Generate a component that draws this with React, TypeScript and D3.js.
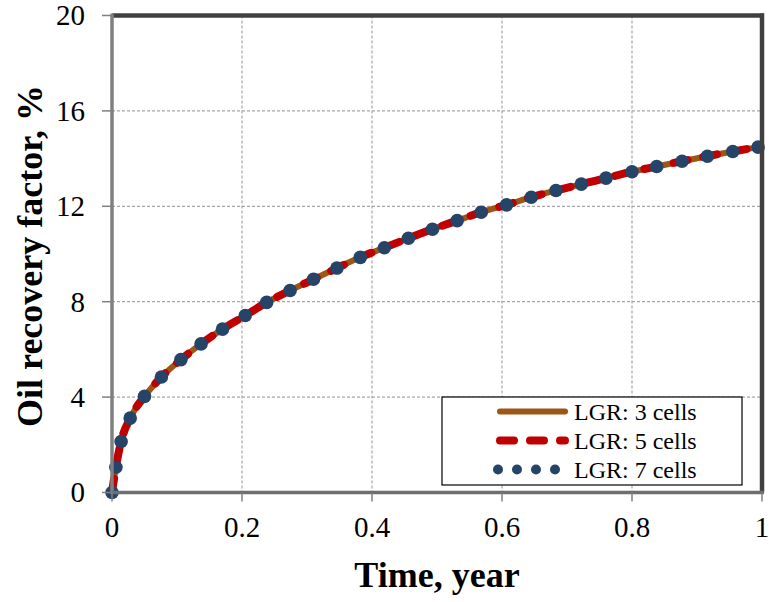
import React from "react";
import * as d3 from "d3";

const timeYears = [0, 0.006, 0.014, 0.028, 0.05, 0.076, 0.106, 0.137, 0.17, 0.205, 0.238, 0.274, 0.31, 0.346, 0.382, 0.419, 0.456, 0.493, 0.531, 0.568, 0.607, 0.645, 0.683, 0.722, 0.76, 0.8, 0.838, 0.877, 0.916, 0.955, 0.994];
const lgr3 = [0, 1.06, 2.14, 3.12, 4.03, 4.84, 5.57, 6.23, 6.85, 7.42, 7.97, 8.47, 8.94, 9.41, 9.86, 10.26, 10.66, 11.04, 11.4, 11.75, 12.06, 12.38, 12.66, 12.93, 13.18, 13.45, 13.67, 13.89, 14.1, 14.3, 14.48];
const lgr5 = [0, 1.06, 2.14, 3.12, 4.03, 4.84, 5.57, 6.23, 6.85, 7.42, 7.97, 8.47, 8.94, 9.41, 9.86, 10.26, 10.66, 11.04, 11.4, 11.75, 12.06, 12.38, 12.66, 12.93, 13.18, 13.45, 13.67, 13.89, 14.1, 14.3, 14.48];
const lgr7 = [0, 1.06, 2.14, 3.12, 4.03, 4.84, 5.57, 6.23, 6.85, 7.42, 7.97, 8.47, 8.94, 9.41, 9.86, 10.26, 10.66, 11.04, 11.4, 11.75, 12.06, 12.38, 12.66, 12.93, 13.18, 13.45, 13.67, 13.89, 14.1, 14.3, 14.48];
const xTicks = [0, 0.2, 0.4, 0.6, 0.8, 1];
const yTicks = [0, 4, 8, 12, 16, 20];
const seriesNames = ["LGR: 3 cells", "LGR: 5 cells", "LGR: 7 cells"];

const W = 769, H = 602;
const L = 112, R = 762, T = 15.5, B = 492.5;
const serif = "Liberation Serif, Times New Roman, serif";

export default function App() {
  const x = d3.scaleLinear().domain([0, 1]).range([L, R]);
  const y = d3.scaleLinear().domain([0, 20]).range([B, T]);
  const line = (vals: number[]) =>
    d3.line<number>().x((_, i) => x(timeYears[i])).y((v) => y(v)).curve(d3.curveMonotoneX)(vals) || "";
  const xFmt = (v: number) => (v === 0 || v === 1 ? String(v) : v.toFixed(1));

  const legRows = [419.5, 448.5, 477.5];
  return (
    <svg width={W} height={H} style={{ position: "absolute", left: 0, top: 0, background: "#fff", fontFamily: serif }}>
      <rect x={0} y={0} width={W} height={H} fill="#fff" />
      {xTicks.filter((t) => t > 0 && t < 1).map((t) => (
        <line key={"gx" + t} x1={x(t)} x2={x(t)} y1={T} y2={B} stroke="#a6a6a6" strokeWidth={1.2} strokeDasharray="3 2" />
      ))}
      {yTicks.filter((t) => t > 0 && t < 20).map((t) => (
        <line key={"gy" + t} x1={L} x2={R} y1={y(t)} y2={y(t)} stroke="#a6a6a6" strokeWidth={1.2} strokeDasharray="3 2" />
      ))}
      <path d={line(lgr3)} fill="none" stroke="#9C5716" strokeWidth={6} strokeLinejoin="round" />
      <path d={line(lgr5)} fill="none" stroke="#C00000" strokeWidth={8} strokeDasharray="14 16" strokeLinecap="round" strokeLinejoin="round" />
      {lgr7.map((v, i) => (
        <circle key={"m" + i} cx={x(timeYears[i])} cy={y(v)} r={6.8} fill="#264468" />
      ))}
      <line x1={L} x2={R + 2} y1={T} y2={T} stroke="#404040" strokeWidth={4.5} />
      <line x1={R} x2={R} y1={T - 2} y2={B} stroke="#404040" strokeWidth={4.5} />
      <line x1={L} x2={L} y1={T - 2} y2={B + 1.5} stroke="#808080" strokeWidth={3.5} />
      <line x1={L - 1.5} x2={R + 2} y1={B} y2={B} stroke="#6e6e6e" strokeWidth={3.5} />
      {yTicks.map((t) => (
        <g key={"yt" + t}>
          <line x1={L - 10} x2={L} y1={y(t)} y2={y(t)} stroke="#808080" strokeWidth={1.5} />
          <text x={85} y={y(t)} dy="0.34em" textAnchor="end" fontSize={29} fill="#000" style={{ fontFamily: serif }}>{t}</text>
        </g>
      ))}
      {xTicks.map((t) => (
        <g key={"xt" + t}>
          <line x1={x(t)} x2={x(t)} y1={B} y2={B + 9} stroke="#808080" strokeWidth={1.5} />
          <text x={x(t)} y={537} textAnchor="middle" fontSize={29} fill="#000" style={{ fontFamily: serif }}>{xFmt(t)}</text>
        </g>
      ))}
      <text x={437} y={587} textAnchor="middle" fontSize={36} fontWeight="bold" fill="#000" style={{ fontFamily: serif }}>Time, year</text>
      <text transform="translate(42,256) rotate(-90)" textAnchor="middle" fontSize={36} fontWeight="bold" fill="#000" style={{ fontFamily: serif }}>Oil recovery factor, %</text>
      <rect x={442} y={397} width={300} height={88} fill="#fff" stroke="#000" strokeWidth={1.2} />
      <line x1={500} x2={565} y1={legRows[0] - 8} y2={legRows[0] - 8} stroke="#9C5716" strokeWidth={6} strokeLinecap="round" />
      <line x1={500} x2={565} y1={legRows[1] - 8} y2={legRows[1] - 8} stroke="#C00000" strokeWidth={8} strokeDasharray="14 16" strokeLinecap="round" />
      <line x1={498} x2={560} y1={legRows[2] - 8} y2={legRows[2] - 8} stroke="#264468" strokeWidth={10} strokeDasharray="0 19" strokeLinecap="round" />
      {seriesNames.map((n, i) => (
        <text key={n} x={574} y={legRows[i]} fontSize={24} fill="#000" style={{ fontFamily: serif }}>{n}</text>
      ))}
    </svg>
  );
}
